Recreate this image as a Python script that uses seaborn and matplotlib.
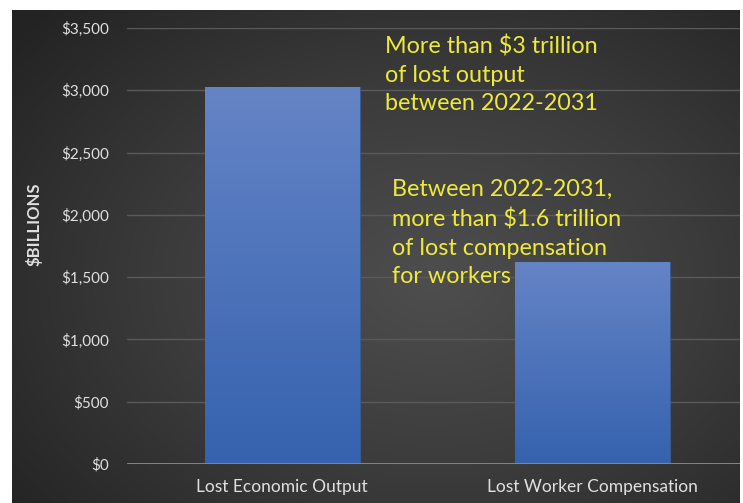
import numpy as np
import pandas as pd
import matplotlib
matplotlib.use("Agg")
import matplotlib.pyplot as plt
import seaborn as sns
from matplotlib.colors import LinearSegmentedColormap

categories = ["Lost Economic Output", "Lost Worker Compensation"]
values = [3026, 1621]
y_ticks = [0, 500, 1000, 1500, 2000, 2500, 3000, 3500]
y_tick_labels = ["$0", "$500", "$1,000", "$1,500", "$2,000", "$2,500", "$3,000", "$3,500"]
note_output = "More than $3 trillion\nof lost output\nbetween 2022-2031"
note_comp = "Between 2022-2031,\nmore than $1.6 trillion\nof lost compensation\nfor workers"
y_label = "$BILLIONS"

sns.set_theme(style="dark")
plt.rcParams['font.family'] = ['Lato', 'DejaVu Sans']

W, H = 743, 503
fig = plt.figure(figsize=(W / 100, H / 100), dpi=100)
fig.patch.set_facecolor("white")

# gradient background panel
bg = fig.add_axes([12 / W, 0, 728 / W, 493 / H])
bg.set_axis_off()
yy, xx = np.mgrid[0:1:300j, 0:1:400j]
r = np.sqrt(((xx - 0.58) / 0.75) ** 2 + ((yy - 0.55) / 0.8) ** 2)
bgcmap = LinearSegmentedColormap.from_list("bg", ["#4e4e4e", "#3b3b3b", "#232323"])
bg.imshow(np.clip(r, 0, 1), cmap=bgcmap, aspect="auto", extent=[0, 1, 0, 1], vmin=0, vmax=1)
bg.set_zorder(0)

ax = fig.add_axes([127 / W, 39 / H, (740 - 127) / W, (464 - 28) / H])
ax.set_zorder(1)
ax.patch.set_alpha(0)

df = pd.DataFrame({"category": categories, "value": values})
sns.barplot(data=df, x="category", y="value", color="#4a6fba", width=0.5,
            saturation=1, ax=ax, zorder=3)

# vertical gradient inside each bar
barcmap = LinearSegmentedColormap.from_list("bar", ["#3562ae", "#6584c6"])
grad = np.linspace(0, 1, 256).reshape(-1, 1)
for p in ax.patches:
    x0, y0 = p.get_x(), p.get_y()
    w, h = p.get_width(), p.get_height()
    im = ax.imshow(grad, cmap=barcmap, origin="lower", aspect="auto",
                   extent=[x0, x0 + w, y0, y0 + h], zorder=4)
    im.set_clip_path(p)
    p.set_edgecolor("#3c5a96")
    p.set_linewidth(0.6)

ax.set_xlim(-0.5, (740 - 127) / 310 - 0.5)
ax.set_ylim(0, 3500)
ax.set_yticks(y_ticks)
ax.set_yticklabels(y_tick_labels)
ax.grid(axis="y", color="#5a5a5a", linewidth=1.0, zorder=0)
ax.grid(axis="x", visible=False)
ax.axhline(0, color="#8a8a8a", linewidth=2, zorder=5)
for s in ax.spines.values():
    s.set_visible(False)
ax.tick_params(axis="y", colors="#e0e0e0", labelsize=11, length=0, pad=13)
ax.tick_params(axis="x", colors="#e0e0e0", labelsize=12.5, length=0, pad=11)
ax.set_xlabel("")
ax.set_ylabel("")
fig.text(34 / W, 1 - 224 / H, y_label, rotation=90, ha="center", va="center",
         color="#e0e0e0", fontsize=12, fontweight="bold")

ax.text(385 / W, 1 - 35 / H, note_output, transform=fig.transFigure,
        ha="left", va="top", color="#eeea3c", fontsize=16.8, linespacing=1.45)
ax.text(392 / W, 1 - 179 / H, note_comp, transform=fig.transFigure,
        ha="left", va="top", color="#eeea3c", fontsize=16.8, linespacing=1.45)

fig.savefig("out.png", dpi=100)
